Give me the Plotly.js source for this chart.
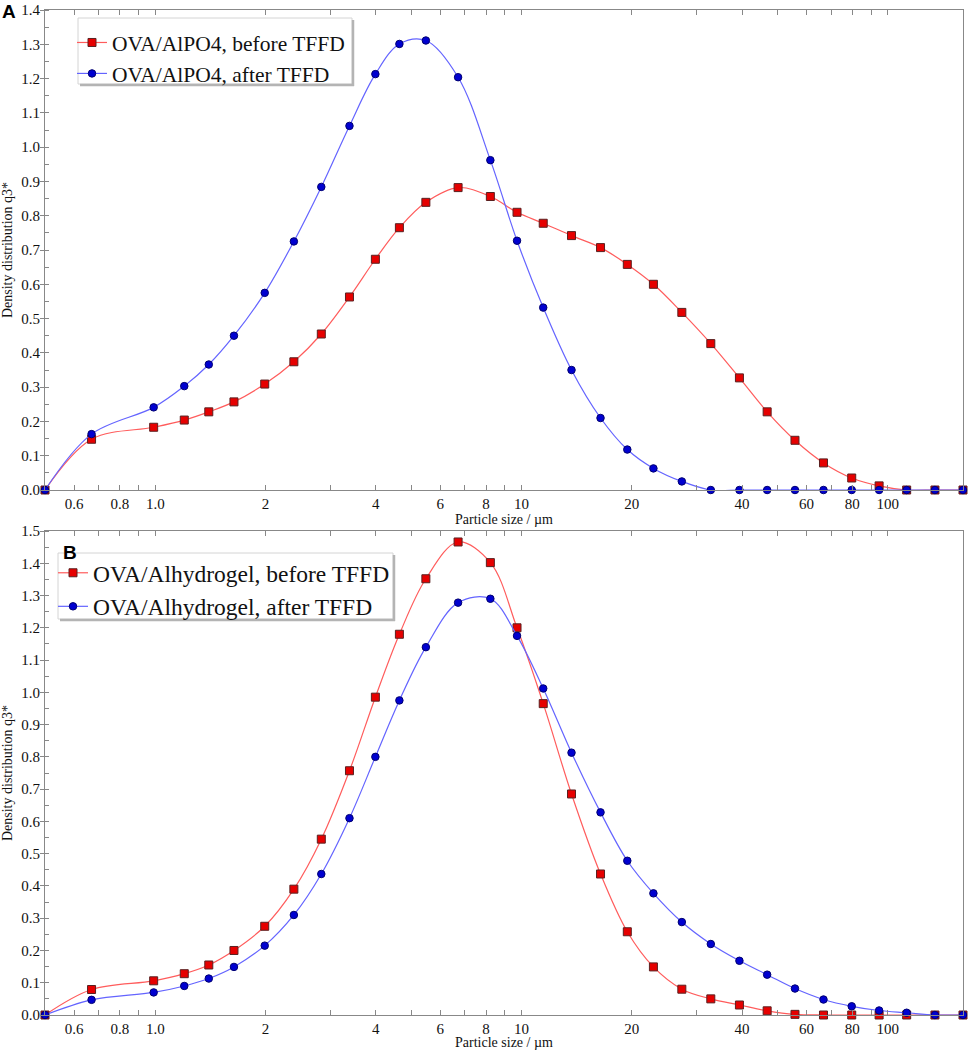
<!DOCTYPE html>
<html>
<head>
<meta charset="utf-8">
<script src="https://cdn.plot.ly/plotly-3.0.1.min.js"></script>
<style>html,body{margin:0;padding:0;background:#fff;}#chart{width:971px;height:1050px;}</style>
</head>
<body>
<div id="chart"></div>
<script>
// Particle size (µm), geometric mid-points of the size classes
var particleSize = [0.5, 0.67, 0.99, 1.2, 1.4, 1.64, 1.99, 2.39, 2.84, 3.39, 3.99, 4.64, 5.48, 6.71, 8.22, 9.72,
  11.46, 13.69, 16.43, 19.44, 22.91, 27.39, 32.86, 39.34, 46.83, 55.78, 66.73, 79.69, 94.66, 112.56, 134.47, 160.39];

// Panel A
var alpo4Before = [0, 0.148, 0.183, 0.204, 0.228, 0.257, 0.309, 0.374, 0.455, 0.563, 0.673, 0.765, 0.839, 0.882, 0.856, 0.81,
  0.778, 0.742, 0.707, 0.658, 0.6, 0.518, 0.427, 0.327, 0.228, 0.145, 0.079, 0.035, 0.012, 0, 0, 0];
var alpo4After = [0, 0.163, 0.241, 0.303, 0.366, 0.45, 0.575, 0.725, 0.884, 1.062, 1.213, 1.301, 1.311, 1.204, 0.962, 0.727,
  0.532, 0.35, 0.21, 0.118, 0.063, 0.025, 0, 0, 0, 0, 0, 0, 0, 0, 0, 0];

// Panel B
var alhydrogelBefore = [0, 0.079, 0.106, 0.128, 0.155, 0.2, 0.275, 0.39, 0.545, 0.757, 0.985, 1.18, 1.352, 1.466, 1.402, 1.2,
  0.965, 0.685, 0.437, 0.258, 0.149, 0.08, 0.05, 0.031, 0.013, 0.002, 0, 0, 0, 0, 0, 0];
var alhydrogelAfter = [0, 0.047, 0.07, 0.09, 0.113, 0.149, 0.215, 0.31, 0.437, 0.61, 0.8, 0.975, 1.14, 1.278, 1.29, 1.175,
  1.012, 0.813, 0.628, 0.478, 0.377, 0.288, 0.22, 0.168, 0.125, 0.082, 0.048, 0.027, 0.014, 0.007, 0, 0];

var seriesNames = ['OVA/AlPO4, before TFFD', 'OVA/AlPO4, after TFFD',
                   'OVA/Alhydrogel, before TFFD', 'OVA/Alhydrogel, after TFFD'];

var xTickVals = [0.6, 0.7, 0.8, 0.9, 1, 2, 3, 4, 5, 6, 7, 8, 9, 10, 20, 30, 40, 50, 60, 70, 80, 90, 100];
var xTickText = ['0.6', '', '0.8', '', '1.0', '2', '', '4', '', '6', '', '8', '', '10', '20', '', '40', '', '60', '', '80', '', '100'];

var serif = 'Liberation Serif, Times New Roman, serif';
var axisGray = '#888888';

var redLine = '#ff5c5c', redFill = '#e60000', redEdge = '#5a2020';
var blueLine = '#6464ff', blueFill = '#0000d0', blueEdge = '#000070';

function redTrace(y, name, xa, ya, leg) {
  return {x: particleSize, y: y, name: name, xaxis: xa, yaxis: ya, legend: leg,
    mode: 'lines+markers', cliponaxis: false,
    line: {color: redLine, width: 1.2, shape: 'spline', smoothing: 1},
    marker: {symbol: 'square', size: 8, color: redFill, line: {color: redEdge, width: 1}}};
}
function blueTrace(y, name, xa, ya, leg) {
  return {x: particleSize, y: y, name: name, xaxis: xa, yaxis: ya, legend: leg,
    mode: 'lines+markers', cliponaxis: false,
    line: {color: blueLine, width: 1.2, shape: 'spline', smoothing: 1},
    marker: {symbol: 'circle', size: 7.5, color: blueFill, line: {color: blueEdge, width: 1}}};
}

var data = [
  redTrace(alpo4Before, seriesNames[0], 'x', 'y', 'legend'),
  blueTrace(alpo4After, seriesNames[1], 'x', 'y', 'legend'),
  redTrace(alhydrogelBefore, seriesNames[2], 'x2', 'y2', 'legend2'),
  blueTrace(alhydrogelAfter, seriesNames[3], 'x2', 'y2', 'legend2')
];

function xAxis(anchor) {
  return {type: 'log', anchor: anchor, domain: [0, 1],
    range: [Math.log10(0.5), Math.log10(160.4)],
    tickmode: 'array', tickvals: xTickVals, ticktext: xTickText,
    ticks: 'inside', ticklen: 5, tickcolor: axisGray, tickwidth: 1,
    showline: true, linecolor: axisGray, linewidth: 1, mirror: 'allticks',
    showgrid: false, zeroline: false, automargin: false,
    tickfont: {family: serif, size: 15, color: '#111'},
    title: {text: 'Particle size / µm', standoff: 0, font: {family: serif, size: 14, color: '#111'}}};
}
function yAxis(anchor, domain, top) {
  return {anchor: anchor, domain: domain, range: [0, top],
    dtick: 0.1, tick0: 0, tickformat: '.1f',
    ticks: 'outside', ticklen: 4, tickcolor: axisGray, ticklabelstandoff: -3,
    minor: {dtick: 0.05, tick0: 0, ticks: 'inside', ticklen: 4, tickcolor: axisGray, showgrid: false},
    showline: true, linecolor: axisGray, linewidth: 1, mirror: true,
    showgrid: false, zeroline: false, automargin: false,
    tickfont: {family: serif, size: 15, color: '#111'},
    title: {text: 'Density distribution q3*', font: {family: serif, size: 14, color: '#111'}}};
}
function yRight(over, anchor, domain, top) {
  return {overlaying: over, anchor: anchor, side: 'right', domain: domain, range: [0, top],
    dtick: 0.05, tick0: 0, ticks: 'inside', ticklen: 4, tickcolor: axisGray,
    showticklabels: false, showline: false, showgrid: false, zeroline: false};
}

// pixel helpers -> paper coords (plot area: x 45..963, y 10..1015)
function px(v) { return (v - 45) / 918; }
function py(v) { return (1015 - v) / 1005; }

var topDomain = [py(490), 1];
var botDomain = [0, py(531)];

function legendBox(x0, y0, x1, y1) {
  return [
    {type: 'rect', xref: 'paper', yref: 'paper', x0: px(x0), x1: px(x1), y0: py(y1), y1: py(y0),
     line: {color: '#d4d4d4', width: 1}, fillcolor: '#ffffff', layer: 'below'},
    {type: 'line', xref: 'paper', yref: 'paper', x0: px(x1 + 1), x1: px(x1 + 1), y0: py(y1 + 2), y1: py(y0 + 2),
     line: {color: '#b4b4b4', width: 2.5}},
    {type: 'line', xref: 'paper', yref: 'paper', x0: px(x0 + 2), x1: px(x1 + 2), y0: py(y1 + 1), y1: py(y1 + 1),
     line: {color: '#b4b4b4', width: 2.5}}
  ];
}

var layout = {
  width: 971, height: 1050,
  margin: {l: 45, r: 8, t: 10, b: 35, pad: 0},
  paper_bgcolor: '#ffffff', plot_bgcolor: '#ffffff',
  font: {family: serif, color: '#111'},
  xaxis: xAxis('y'),
  yaxis: yAxis('x', topDomain, 1.4),
  yaxis3: yRight('y', 'x', topDomain, 1.4),
  xaxis2: xAxis('y2'),
  yaxis2: yAxis('x2', botDomain, 1.5),
  yaxis4: yRight('y2', 'x2', botDomain, 1.5),
  legend: {x: px(72), y: py(22), xanchor: 'left', yanchor: 'top', bgcolor: 'rgba(0,0,0,0)', borderwidth: 0,
    font: {family: serif, size: 21.5, color: '#111'}, itemwidth: 30, tracegroupgap: 0},
  legend2: {x: px(53), y: py(551), xanchor: 'left', yanchor: 'top', bgcolor: 'rgba(0,0,0,0)', borderwidth: 0,
    font: {family: serif, size: 23.5, color: '#111'}, itemwidth: 30, tracegroupgap: 0},
  shapes: [].concat(legendBox(78, 18, 352, 84), legendBox(58, 553, 393, 619)),
  annotations: [
    {text: '<b>A</b>', xref: 'paper', yref: 'paper', x: px(0), y: py(-1), xanchor: 'left', yanchor: 'top',
     showarrow: false, font: {family: 'Liberation Sans, Arial, sans-serif', size: 19, color: '#000'}},
    {text: '<b>B</b>', xref: 'paper', yref: 'paper', x: px(61), y: py(540), xanchor: 'left', yanchor: 'top',
     showarrow: false, font: {family: 'Liberation Sans, Arial, sans-serif', size: 19, color: '#000'}}
  ]
};

Plotly.newPlot('chart', data, layout, {displayModeBar: false, staticPlot: true});
</script>
</body>
</html>
